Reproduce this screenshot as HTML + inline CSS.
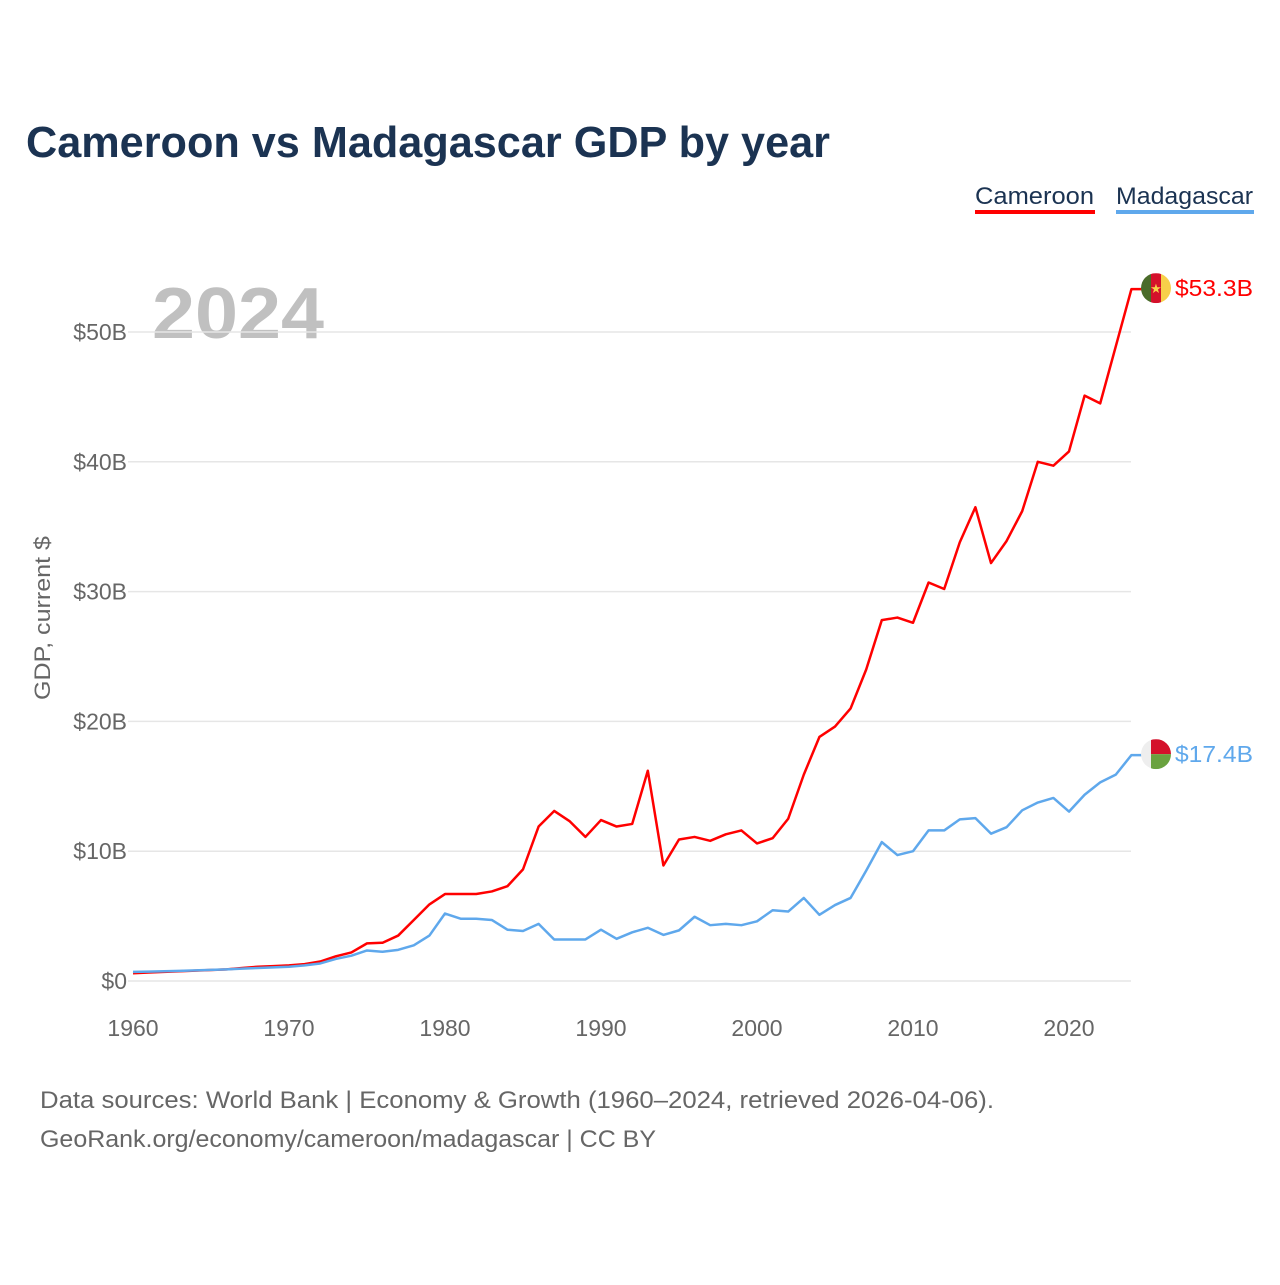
<!DOCTYPE html>
<html><head><meta charset="utf-8"><style>
body{margin:0;background:#fff;font-family:"Liberation Sans",sans-serif;}
svg text{font-family:"Liberation Sans",sans-serif;}
</style></head><body>
<svg id="chart" width="1280" height="1280" viewBox="0 0 1280 1280" xmlns="http://www.w3.org/2000/svg">
<rect width="1280" height="1280" fill="#fff"/>
<text x="26" y="157" font-size="44" font-weight="bold" fill="#1b3352" textLength="804" lengthAdjust="spacingAndGlyphs">Cameroon vs Madagascar GDP by year</text>
<g>
<text x="975" y="204" font-size="24" fill="#1b3352" textLength="119" lengthAdjust="spacingAndGlyphs">Cameroon</text>
<rect x="975" y="210" width="120" height="4" fill="#ff0000"/>
</g>
<g>
<text x="1116" y="204" font-size="24" fill="#1b3352" textLength="137" lengthAdjust="spacingAndGlyphs">Madagascar</text>
<rect x="1116" y="210" width="138" height="4" fill="#5fa8ec"/>
</g>
<text x="152" y="338" font-size="72" font-weight="bold" fill="#c0c0c0" textLength="172" lengthAdjust="spacingAndGlyphs">2024</text>
<text transform="translate(50,618) rotate(-90)" text-anchor="middle" font-size="22" fill="#666" textLength="164" lengthAdjust="spacingAndGlyphs">GDP, current $</text>
<g id="grid"></g><g id="yticks"></g><g id="xticks"></g><g id="lines"></g>
<text x="40" y="1108" font-size="24" fill="#666" textLength="954" lengthAdjust="spacingAndGlyphs">Data sources: World Bank | Economy &amp; Growth (1960–2024, retrieved 2026-04-06).</text>
<text x="40" y="1147" font-size="24" fill="#666" textLength="616" lengthAdjust="spacingAndGlyphs">GeoRank.org/economy/cameroon/madagascar | CC BY</text>
</svg>
<script>
const years=[];for(let y=1960;y<=2024;y++)years.push(y);
const cameroon=[0.6,0.65,0.7,0.75,0.8,0.85,0.9,1.0,1.1,1.15,1.2,1.3,1.5,1.9,2.2,2.9,2.95,3.5,4.7,5.9,6.7,6.7,6.7,6.9,7.3,8.6,11.9,13.1,12.3,11.1,12.4,11.9,12.1,16.2,8.9,10.9,11.1,10.8,11.3,11.6,10.6,11.0,12.5,15.9,18.8,19.6,21.0,24.0,27.8,28.0,27.6,30.7,30.2,33.8,36.5,32.2,33.9,36.2,40.0,39.7,40.8,45.1,44.5,48.9,53.3];
const madagascar=[0.7,0.72,0.75,0.78,0.82,0.86,0.9,0.95,1.0,1.05,1.1,1.2,1.35,1.7,1.95,2.35,2.25,2.4,2.75,3.5,5.2,4.8,4.8,4.7,3.95,3.85,4.4,3.2,3.2,3.2,3.95,3.25,3.75,4.1,3.55,3.9,4.95,4.3,4.4,4.3,4.6,5.45,5.35,6.4,5.1,5.85,6.4,8.5,10.7,9.7,10.0,11.6,11.6,12.45,12.55,11.35,11.85,13.15,13.75,14.1,13.05,14.35,15.3,15.9,17.4];
const yTicks=[0,10,20,30,40,50];
const yTickLabels=["$0","$10B","$20B","$30B","$40B","$50B"];
const xTicks=[1960,1970,1980,1990,2000,2010,2020];
const NS="http://www.w3.org/2000/svg";
const X=y=>133+(y-1960)*15.6, Y=v=>981-v*12.98;
function mk(t,a,p){const e=document.createElementNS(NS,t);for(const k in a)e.setAttribute(k,a[k]);p.appendChild(e);return e;}
const grid=document.getElementById('grid'),yt=document.getElementById('yticks'),xt=document.getElementById('xticks'),ln=document.getElementById('lines');
yTicks.forEach((v,i)=>{
 const l=mk('line',{x1:128,x2:1131,y1:Y(v),y2:Y(v),stroke:'#e6e6e6','stroke-width':1.5},grid);
 
 
 const t=mk('text',{x:127,y:Y(v)+8,'text-anchor':'end','font-size':23,fill:'#666'},yt);t.textContent=yTickLabels[i];
 
 
});
xTicks.forEach(y=>{
 const t=mk('text',{x:X(y),y:1036,'text-anchor':'middle','font-size':23,fill:'#666'},xt);t.textContent=y;
 
 
});
function line(d,c,n){
 const p=mk('polyline',{points:d.map((v,i)=>X(years[i])+','+Y(v)).join(' ')+' '+(X(2024)+10)+','+Y(d[d.length-1]),fill:'none',stroke:c,'stroke-width':2.5,'stroke-linejoin':'round'},ln);
 
 
}
line(cameroon,'#ff0000','cameroon');
line(madagascar,'#5fa8ec','madagascar');
function flag(v,n,colors,label,lc){
 const cx=1156,cy=Y(v)-1;
 const g=mk('g',{},ln);
 
 
 const cp=mk('clipPath',{id:'c'+n},g);
 mk('circle',{cx:cx,cy:cy,r:15},cp);
 const gg=mk('g',{'clip-path':'url(#c'+n+')'},g);
 colors(gg,cx,cy);
 const t=mk('text',{x:1175,y:cy+8,'font-size':23,fill:lc,textLength:78,lengthAdjust:'spacingAndGlyphs'},ln);t.textContent=label;
 
 
}
flag(cameroon[64],'cameroon',(g,cx,cy)=>{
 mk('rect',{x:cx-15,y:cy-15,width:10,height:30,fill:'#4a6b2a'},g);
 mk('rect',{x:cx-5,y:cy-15,width:10,height:30,fill:'#d4112b'},g);
 mk('rect',{x:cx+5,y:cy-15,width:10,height:30,fill:'#f7d04a'},g);
 const s=mk('text',{x:cx,y:cy+5,'text-anchor':'middle','font-size':13,fill:'#f7d04a'},g);s.textContent='★';
},'$53.3B','#ff0000');
flag(madagascar[64],'madagascar',(g,cx,cy)=>{
 mk('rect',{x:cx-15,y:cy-15,width:10,height:30,fill:'#eeeeee'},g);
 mk('rect',{x:cx-5,y:cy-15,width:20,height:15,fill:'#d4112b'},g);
 mk('rect',{x:cx-5,y:cy,width:20,height:15,fill:'#6aa23f'},g);
},'$17.4B','#5fa8ec');
</script>
</body></html>
